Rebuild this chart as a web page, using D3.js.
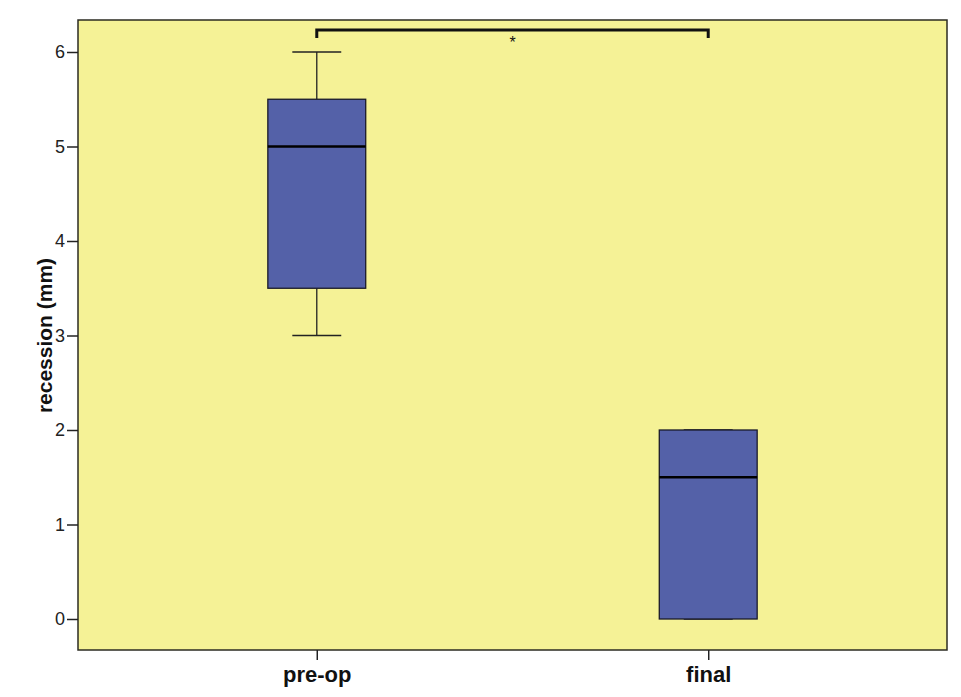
<!DOCTYPE html>
<html>
<head>
<meta charset="utf-8">
<script src="https://cdn.jsdelivr.net/npm/d3@7"></script>
<style>
  body { margin: 0; background: #fff; }
  text { font-family: Arial, "Liberation Sans", sans-serif; }
</style>
</head>
<body>
<script>
var categories = ["pre-op", "final"];
var mins = [3, 0];
var q1s = [3.5, 0];
var medians = [5, 1.5];
var q3s = [5.5, 2];
var maxs = [6, 2];
var yTicks = [0, 1, 2, 3, 4, 5, 6];
var sigLabel = "*";

var size = ({ width: 961, height: 697 });
var margin = ({ top: 20, right: 14, bottom: 47, left: 78 });

var svg = d3.select("body").append("svg")
            .attr("width", size.width)
            .attr("height", size.height);

var x_scale = d3.scalePoint()
                .domain(categories)
                .range([margin.left, size.width - margin.right])
                .padding(0.61);
var y_scale = d3.scaleLinear()
                .domain([0, 6])
                .range([619, 52]);

var boxW = x_scale.step() * 0.25;

var data = categories.map(function(c, i) {
  return { cat: c, min: mins[i], q1: q1s[i], med: medians[i], q3: q3s[i], max: maxs[i] };
});

// background
svg.append("rect")
   .attr("x", margin.left)
   .attr("y", margin.top)
   .attr("width", size.width - margin.left - margin.right)
   .attr("height", size.height - margin.top - margin.bottom)
   .attr("fill", "#f5f296")
   .attr("stroke", "#2b2b22")
   .attr("stroke-width", 1.5);

// axes
var yAxis = d3.axisLeft(y_scale).tickValues(yTicks).tickFormat(d3.format("d"))
              .tickSize(11).tickPadding(2).tickSizeOuter(0);
var gy = svg.append("g").attr("transform", "translate(" + margin.left + ",0)").call(yAxis);
gy.select(".domain").remove();
gy.selectAll("text").style("font-size", "18px").attr("fill", "#222");
gy.selectAll("line").attr("stroke", "#222").attr("stroke-width", 1.5);

var xAxis = d3.axisBottom(x_scale).tickSize(10).tickSizeOuter(0).tickPadding(6);
var gx = svg.append("g").attr("transform", "translate(0," + (size.height - margin.bottom) + ")").call(xAxis);
gx.select(".domain").remove();
gx.selectAll("text").style("font-size", "22px").style("font-weight", "bold").attr("fill", "#111");
gx.selectAll("line").attr("stroke", "#222").attr("stroke-width", 1.5);

svg.append("text")
   .attr("transform", "translate(52," + y_scale(3) + ") rotate(-90)")
   .attr("text-anchor", "middle")
   .style("font-size", "21px")
   .style("font-weight", "bold")
   .attr("fill", "#111")
   .text("recession (mm)");

// boxes
var g = svg.selectAll("g.box").data(data).enter().append("g").attr("class", "box");

g.append("line")
 .attr("x1", function(d) { return x_scale(d.cat); })
 .attr("x2", function(d) { return x_scale(d.cat); })
 .attr("y1", function(d) { return y_scale(d.max); })
 .attr("y2", function(d) { return y_scale(d.q3); })
 .attr("stroke", "#222").attr("stroke-width", 1.3);
g.append("line")
 .attr("x1", function(d) { return x_scale(d.cat); })
 .attr("x2", function(d) { return x_scale(d.cat); })
 .attr("y1", function(d) { return y_scale(d.q1); })
 .attr("y2", function(d) { return y_scale(d.min); })
 .attr("stroke", "#222").attr("stroke-width", 1.3);
[function(d) { return d.max; }, function(d) { return d.min; }].forEach(function(acc) {
  g.append("line")
   .attr("x1", function(d) { return x_scale(d.cat) - boxW / 4; })
   .attr("x2", function(d) { return x_scale(d.cat) + boxW / 4; })
   .attr("y1", function(d) { return y_scale(acc(d)); })
   .attr("y2", function(d) { return y_scale(acc(d)); })
   .attr("stroke", "#222").attr("stroke-width", 1.3);
});

g.append("rect")
 .attr("x", function(d) { return x_scale(d.cat) - boxW / 2; })
 .attr("width", boxW)
 .attr("y", function(d) { return y_scale(d.q3); })
 .attr("height", function(d) { return y_scale(d.q1) - y_scale(d.q3); })
 .attr("fill", "#5461a8")
 .attr("stroke", "#1a1a2a")
 .attr("stroke-width", 1.3);

g.append("line")
 .attr("x1", function(d) { return x_scale(d.cat) - boxW / 2; })
 .attr("x2", function(d) { return x_scale(d.cat) + boxW / 2; })
 .attr("y1", function(d) { return y_scale(d.med); })
 .attr("y2", function(d) { return y_scale(d.med); })
 .attr("stroke", "#000").attr("stroke-width", 2.5);

// significance bracket
var bx1 = x_scale(categories[0]), bx2 = x_scale(categories[1]);
svg.append("path")
   .attr("d", "M" + bx1 + ",38V30H" + bx2 + "V38")
   .attr("fill", "none")
   .attr("stroke", "#111")
   .attr("stroke-width", 3);
svg.append("text")
   .attr("x", (bx1 + bx2) / 2)
   .attr("y", 48)
   .attr("text-anchor", "middle")
   .style("font-size", "16px")
   .attr("fill", "#111")
   .text(sigLabel);
</script>
</body>
</html>
